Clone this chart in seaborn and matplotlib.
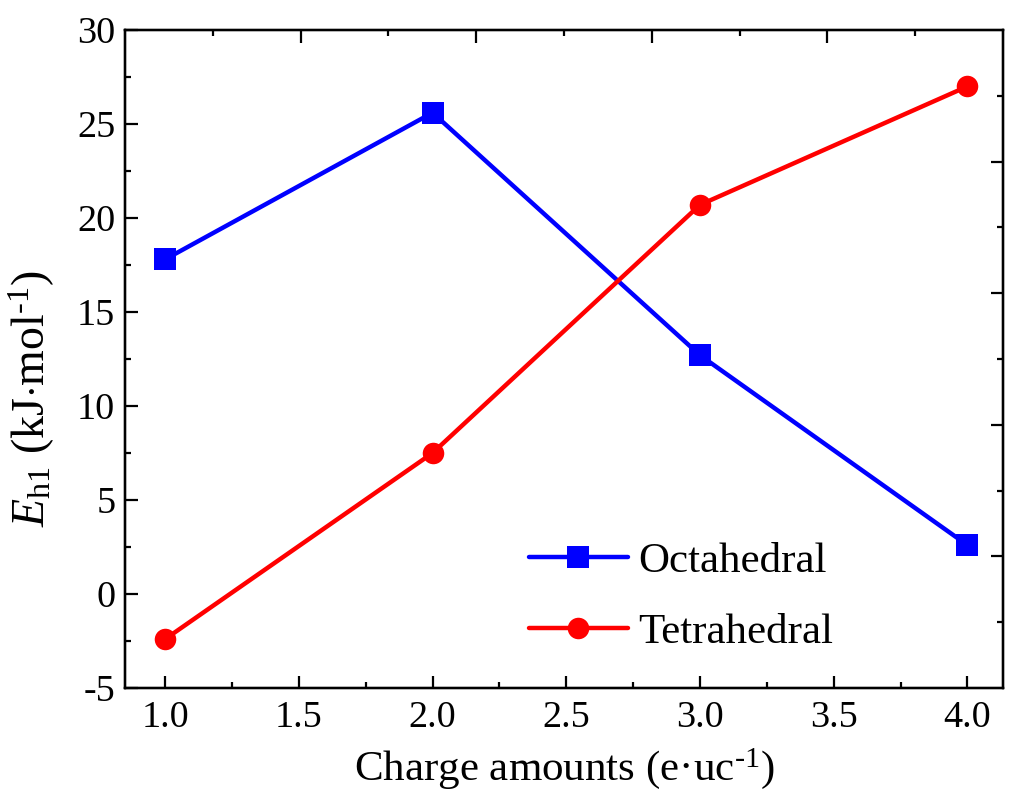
import numpy as np
import pandas as pd
import matplotlib
matplotlib.use("Agg")
import matplotlib.pyplot as plt
import seaborn as sns

# ---- data ----
charge = [1.0, 2.0, 3.0, 4.0]
octahedral = [17.8, 25.6, 12.7, 2.6]
tetrahedral = [-2.4, 7.5, 20.7, 27.0]
series_names = ["Octahedral", "Tetrahedral"]
x_ticks = [1.0, 1.5, 2.0, 2.5, 3.0, 3.5, 4.0]
y_ticks = [-5, 0, 5, 10, 15, 20, 25, 30]

df = pd.DataFrame({
    "charge": charge * 2,
    "E": octahedral + tetrahedral,
    "series": [series_names[0]] * len(charge) + [series_names[1]] * len(charge),
})

sns.set_style("ticks")
plt.rcParams["font.family"] = ["Liberation Serif", "DejaVu Serif"]
plt.rcParams["mathtext.fontset"] = "custom"
plt.rcParams["mathtext.rm"] = "Liberation Serif"
plt.rcParams["mathtext.it"] = "Liberation Serif:italic"
plt.rcParams["text.color"] = "black"
plt.rcParams["axes.labelcolor"] = "black"
plt.rcParams["xtick.color"] = "black"
plt.rcParams["ytick.color"] = "black"

fig = plt.figure(figsize=(10.11, 7.94), dpi=100)
fig.subplots_adjust(left=125/1011, right=1003/1011, top=1-30/794, bottom=1-688/794)
ax = fig.add_subplot(111)

sns.lineplot(data=df, x="charge", y="E", hue="series", style="series",
             palette={"Octahedral": "#0000ff", "Tetrahedral": "#ff0000"},
             markers={"Octahedral": "s", "Tetrahedral": "o"},
             dashes=False, linewidth=3.2, markersize=15.5,
             markeredgewidth=0, ax=ax)

ax.set_xlim(0.85, 4.133)
ax.set_ylim(-5, 30)
ax.set_xticks(x_ticks)
ax.set_xticklabels([f"{v:.1f}" for v in x_ticks])
ax.set_yticks(y_ticks)
ax.set_yticklabels([str(v) for v in y_ticks])
ax.set_xticks(np.arange(1.25, 4.0, 0.5), minor=True)
ax.set_yticks(np.arange(-2.5, 30, 5), minor=True)

for s in ax.spines.values():
    s.set_linewidth(1.6)
    s.set_color("black")

ax.tick_params(axis="both", which="major", direction="in", length=9, width=1.6,
               labelsize=27.5, colors="black", top=False, right=False)
ax.tick_params(axis="both", which="minor", direction="in", length=4.5, width=1.6,
               top=False, right=False)
ax.tick_params(axis="x", which="major", pad=9)
ax.tick_params(axis="y", which="major", pad=7)

ax.set_xlabel("Charge amounts (e\u00b7uc$^{\\text{-}1}$)", fontsize=31, labelpad=8)
ax.set_ylabel(r"$E_{\rm h1}$ (kJ$\cdot$mol$^{\text{-}1}$)", fontsize=33)
ax.yaxis.set_label_coords(-0.078, 0.44)

# independent top / right tick rows
ax_top = ax.twiny()
ax_top.set_xlim(0, 1)
ax_top.set_xticks([0.2, 0.4, 0.6, 0.8])
ax_top.set_xticks([0.1, 0.3, 0.5, 0.7, 0.9], minor=True)
ax_top.tick_params(axis="x", which="major", direction="in", length=9, width=1.6,
                   labeltop=False, top=True, bottom=False)
ax_top.tick_params(axis="x", which="minor", direction="in", length=4.5, width=1.6,
                   top=True, bottom=False)

ax_right = ax.twinx()
ax_right.set_ylim(0, 1)
ax_right.set_yticks([0.2, 0.4, 0.6, 0.8])
ax_right.set_yticks([0.1, 0.3, 0.5, 0.7, 0.9], minor=True)
ax_right.tick_params(axis="y", which="major", direction="in", length=9, width=1.6,
                     labelright=False, right=True, left=False)
ax_right.tick_params(axis="y", which="minor", direction="in", length=4.5, width=1.6,
                     right=True, left=False)
for a in (ax_top, ax_right):
    for s in a.spines.values():
        s.set_linewidth(1.6)
        s.set_color("black")

sns.move_legend(ax, loc="center", bbox_to_anchor=(681/1011, 1-597/794),
                bbox_transform=fig.transFigure, title=None, frameon=False,
                fontsize=31, handlelength=2.3, handletextpad=0.25, labelspacing=0.75)

fig.savefig("out.png", dpi=100)
